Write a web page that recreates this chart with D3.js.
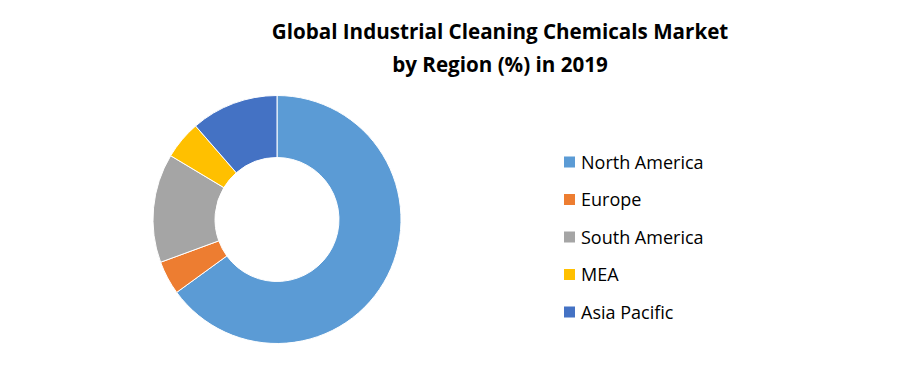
<!DOCTYPE html>
<html><head><meta charset="utf-8">
<script src="https://cdn.jsdelivr.net/npm/d3@7"></script>
<style>body{margin:0;background:#fff}svg{display:block}</style>
</head><body>
<svg id="c" width="897" height="384"></svg>
<script>
const categories = ["North America","Europe","South America","MEA","Asia Pacific"];
const values = [65, 4.4, 14.2, 5, 11.4];
const colors = ["#5B9BD5","#ED7D31","#A5A5A5","#FFC000","#4472C4"];
const titleLines = ["Global Industrial Cleaning Chemicals Market","by Region (%) in 2019"];

const svg = d3.select("#c");
const font = "'Open Sans', sans-serif";

svg.selectAll("text.title").data(titleLines).enter().append("text")
  .attr("class","title")
  .attr("x",500).attr("y",(d,i)=>39+i*33)
  .attr("text-anchor","middle")
  .attr("font-family",font).attr("font-weight","bold").attr("font-size",20.6)
  .attr("fill","#000").text(d=>d);

const data = categories.map((c,i)=>({name:c,value:values[i],color:colors[i]}));
const pie = d3.pie().value(d=>d.value).sort(null);
const arc = d3.arc().innerRadius(62).outerRadius(124);
const g = svg.append("g").attr("transform","translate(277,219.5)");
g.selectAll("path").data(pie(data)).enter().append("path")
  .attr("d",arc).attr("fill",d=>d.data.color)
  .attr("stroke","#fff").attr("stroke-width",1);

const y = d3.scalePoint().domain(categories).range([162,312]);
const leg = svg.append("g");
const items = leg.selectAll("g").data(data).enter().append("g")
  .attr("transform",d=>`translate(564,${y(d.name)})`);
items.append("rect").attr("x",0).attr("y",-5.5).attr("width",11).attr("height",11).attr("fill",d=>d.color);
items.append("text").attr("x",17).attr("y",6.5)
  .attr("font-family",font).attr("font-size",18).attr("fill","#000").text(d=>d.name);
</script>
</body></html>
